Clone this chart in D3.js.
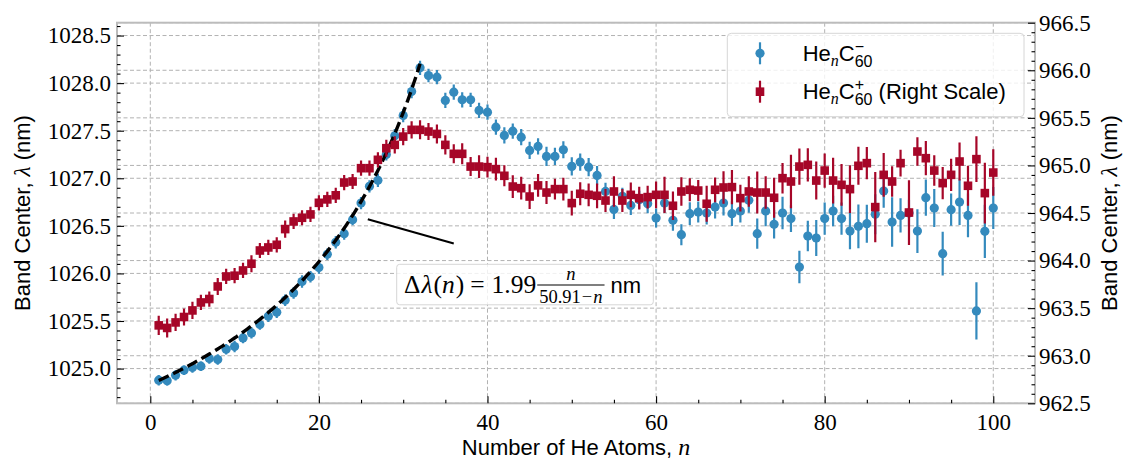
<!DOCTYPE html>
<html>
<head>
<meta charset="utf-8">
<script src="https://cdn.jsdelivr.net/npm/d3@7/dist/d3.min.js"></script>
<style>
  html, body { margin: 0; padding: 0; background: #fff; }
  svg { display: block; }
</style>
</head>
<body>
<svg id="chart" width="1129" height="462"></svg>
<script>
// Cluster size n
const nAtoms = d3.range(1, 101);

// He_n C60^- band centre (nm, left scale)
const anionCenter = [
  1024.878, 1024.871, 1024.930, 1024.983, 1025.011, 1025.025, 1025.106, 1025.095, 1025.203, 1025.232,
  1025.322, 1025.375, 1025.463, 1025.550, 1025.592, 1025.718, 1025.794, 1025.915, 1025.965, 1026.061,
  1026.201, 1026.327, 1026.418, 1026.565, 1026.739, 1026.915, 1026.978, 1027.251, 1027.447, 1027.660,
  1027.912, 1028.161, 1028.080, 1028.062, 1027.818, 1027.905, 1027.825, 1027.825, 1027.713, 1027.695,
  1027.537, 1027.450, 1027.495, 1027.432, 1027.293, 1027.335, 1027.230, 1027.230, 1027.300, 1027.125,
  1027.170, 1027.117, 1027.030, 1026.862, 1026.673, 1026.810, 1026.715, 1026.775, 1026.733, 1026.582,
  1026.739, 1026.558, 1026.407, 1026.628, 1026.645, 1026.635, 1026.698, 1026.739, 1026.628, 1026.656,
  1026.768, 1026.418, 1026.656, 1026.516, 1026.635, 1026.576, 1026.067, 1026.393, 1026.372, 1026.576,
  1026.656, 1026.576, 1026.445, 1026.495, 1026.523, 1026.621, 1026.865, 1026.540, 1026.610, 1026.635,
  1026.445, 1026.796, 1026.687, 1026.208, 1026.670, 1026.750, 1026.610, 1025.606, 1026.442, 1026.687
];
const anionErr = [
  0.055, 0.050, 0.055, 0.050, 0.055, 0.050, 0.055, 0.055, 0.055, 0.060,
  0.055, 0.060, 0.055, 0.060, 0.060, 0.060, 0.060, 0.065, 0.060, 0.065,
  0.060, 0.065, 0.065, 0.060, 0.065, 0.065, 0.070, 0.065, 0.070, 0.070,
  0.070, 0.075, 0.070, 0.075, 0.080, 0.080, 0.080, 0.075, 0.080, 0.080,
  0.080, 0.085, 0.080, 0.085, 0.090, 0.085, 0.100, 0.090, 0.090, 0.095,
  0.090, 0.095, 0.100, 0.090, 0.100, 0.090, 0.100, 0.095, 0.100, 0.100,
  0.100, 0.110, 0.110, 0.120, 0.110, 0.120, 0.120, 0.130, 0.130, 0.120,
  0.130, 0.160, 0.160, 0.150, 0.170, 0.140, 0.170, 0.160, 0.190, 0.170,
  0.160, 0.170, 0.190, 0.230, 0.200, 0.210, 0.175, 0.260, 0.180, 0.140,
  0.230, 0.190, 0.200, 0.230, 0.170, 0.240, 0.230, 0.300, 0.280, 0.220
];

// He_n C60^+ band centre (nm, right scale)
const cationCenter = [
  963.319, 963.292, 963.350, 963.407, 963.476, 963.560, 963.596, 963.728, 963.833, 963.841,
  963.896, 963.967, 964.106, 964.138, 964.166, 964.331, 964.411, 964.450, 964.485, 964.607,
  964.643, 964.686, 964.820, 964.831, 964.971, 964.971, 965.059, 965.181, 965.216, 965.303,
  965.374, 965.374, 965.356, 965.331, 965.216, 965.122, 965.122, 964.988, 964.988, 964.982,
  964.961, 964.891, 964.778, 964.761, 964.673, 964.790, 964.715, 964.751, 964.751, 964.604,
  964.702, 964.691, 964.681, 964.631, 964.726, 964.631, 964.691, 964.656, 964.667, 964.691,
  964.691, 964.576, 964.726, 964.744, 964.736, 964.597, 964.744, 964.768, 964.772, 964.656,
  964.726, 964.715, 964.715, 964.660, 964.866, 964.831, 964.988, 965.006, 964.841, 964.946,
  964.841, 964.796, 964.751, 964.996, 965.024, 964.562, 964.901, 964.831, 965.024, 964.505,
  965.146, 965.076, 964.946, 964.814, 964.901, 965.041, 964.786, 965.066, 964.709, 964.925
];
const cationErr = [
  0.100, 0.100, 0.090, 0.090, 0.090, 0.080, 0.080, 0.090, 0.080, 0.080,
  0.080, 0.090, 0.080, 0.080, 0.080, 0.090, 0.080, 0.080, 0.080, 0.080,
  0.080, 0.080, 0.080, 0.080, 0.080, 0.080, 0.080, 0.090, 0.090, 0.090,
  0.090, 0.100, 0.090, 0.100, 0.100, 0.100, 0.110, 0.100, 0.120, 0.110,
  0.120, 0.110, 0.120, 0.120, 0.130, 0.120, 0.120, 0.110, 0.120, 0.130,
  0.120, 0.120, 0.130, 0.120, 0.160, 0.120, 0.130, 0.120, 0.120, 0.140,
  0.190, 0.150, 0.150, 0.120, 0.110, 0.190, 0.130, 0.170, 0.180, 0.140,
  0.160, 0.220, 0.170, 0.210, 0.160, 0.280, 0.190, 0.175, 0.200, 0.180,
  0.240, 0.220, 0.250, 0.200, 0.170, 0.370, 0.230, 0.160, 0.140, 0.340,
  0.150, 0.180, 0.160, 0.170, 0.170, 0.200, 0.210, 0.240, 0.320, 0.245
];

// Fit to the anion shift: Δλ(n) = 1.99 n / (50.91 − n)
const fitAmp = 1.99;
const fitN0 = 50.91;
const fitBase = 1024.835;
const fitRange = [1, 32];

// Axis ticks
const xTicks = [0, 20, 40, 60, 80, 100];
const leftTicks = [1025.0, 1025.5, 1026.0, 1026.5, 1027.0, 1027.5, 1028.0, 1028.5];
const rightTicks = [962.5, 963.0, 963.5, 964.0, 964.5, 965.0, 965.5, 966.0, 966.5];

const blue = "#348ABD";
const red = "#A60628";
const serif = "'Liberation Serif', 'DejaVu Serif', serif";
const sans = "'Liberation Sans', 'DejaVu Sans', sans-serif";

const plot = { left: 117, right: 1035, top: 22.7, bottom: 403.3 };

const x = d3.scaleLinear().domain([-3.95, 104.95]).range([plot.left, plot.right]);
const yL = d3.scaleLinear().domain([1024.635, 1028.635]).range([plot.bottom, plot.top]);
const yR = d3.scaleLinear().domain([962.5, 966.5]).range([plot.bottom, plot.top]);

const svg = d3.select("#chart");

svg.append("defs").append("clipPath").attr("id", "plotClip")
  .append("rect")
  .attr("x", plot.left).attr("y", plot.top)
  .attr("width", plot.right - plot.left).attr("height", plot.bottom - plot.top);

// Grid
const grid = svg.append("g").attr("stroke", "#b2b2b2").attr("stroke-width", 1)
  .attr("stroke-dasharray", "4,2.5").attr("fill", "none");
xTicks.forEach(t => grid.append("line")
  .attr("x1", x(t)).attr("x2", x(t)).attr("y1", plot.top).attr("y2", plot.bottom));
leftTicks.forEach(t => grid.append("line")
  .attr("x1", plot.left).attr("x2", plot.right).attr("y1", yL(t)).attr("y2", yL(t)));
rightTicks.forEach(t => grid.append("line")
  .attr("x1", plot.left).attr("x2", plot.right).attr("y1", yR(t)).attr("y2", yR(t)));

const dataLayer = svg.append("g").attr("clip-path", "url(#plotClip)");

// Anion series
const anion = nAtoms.map((n, i) => ({ n, v: anionCenter[i], e: anionErr[i] }));
const gA = dataLayer.append("g");
gA.selectAll("line").data(anion).join("line")
  .attr("x1", d => x(d.n)).attr("x2", d => x(d.n))
  .attr("y1", d => yL(d.v - d.e)).attr("y2", d => yL(d.v + d.e))
  .attr("stroke", blue).attr("stroke-width", 2.2);
gA.selectAll("circle").data(anion).join("circle")
  .attr("cx", d => x(d.n)).attr("cy", d => yL(d.v)).attr("r", 4.6)
  .attr("fill", blue);

// Fit curve
const fitPts = d3.range(fitRange[0], fitRange[1] + 0.001, 0.25)
  .map(n => [n, fitBase + fitAmp * n / (fitN0 - n)]);
dataLayer.append("path")
  .datum(fitPts)
  .attr("d", d3.line().x(d => x(d[0])).y(d => yL(d[1])))
  .attr("fill", "none").attr("stroke", "#000").attr("stroke-width", 3.4)
  .attr("stroke-dasharray", "11,5");

// Cation series (right scale)
const cation = nAtoms.map((n, i) => ({ n, v: cationCenter[i], e: cationErr[i] }));
const gC = dataLayer.append("g");
gC.selectAll("line").data(cation).join("line")
  .attr("x1", d => x(d.n)).attr("x2", d => x(d.n))
  .attr("y1", d => yR(d.v - d.e)).attr("y2", d => yR(d.v + d.e))
  .attr("stroke", red).attr("stroke-width", 2.2);
const sq = 8.6;
gC.selectAll("rect").data(cation).join("rect")
  .attr("x", d => x(d.n) - sq / 2).attr("y", d => yR(d.v) - sq / 2)
  .attr("width", sq).attr("height", sq)
  .attr("fill", red);

// Frame
svg.append("rect")
  .attr("x", plot.left).attr("y", plot.top)
  .attr("width", plot.right - plot.left).attr("height", plot.bottom - plot.top)
  .attr("fill", "none").attr("stroke", "#bcbcbc").attr("stroke-width", 2);

// Axes with inward ticks
function styleAxis(g, size) {
  g.select(".domain").remove();
  g.selectAll(".tick line").attr("stroke", "#000").attr("stroke-width", 1.1);
  g.selectAll(".tick text").attr("font-family", serif).attr("font-size", size).attr("fill", "#000");
}
const fmt1 = d3.format(".1f");

const xMinor = d3.range(0, 101, 5).filter(v => !xTicks.includes(v));
const gxMinor = svg.append("g").attr("transform", `translate(0,${plot.bottom})`)
  .call(d3.axisBottom(x).tickValues(xMinor).tickSize(-3.5).tickFormat(""));
styleAxis(gxMinor, 23);
const gx = svg.append("g").attr("transform", `translate(0,${plot.bottom})`)
  .call(d3.axisBottom(x).tickValues(xTicks).tickSize(-7).tickPadding(10).tickFormat(d3.format("d")));
styleAxis(gx, 23);

const leftMinor = d3.range(10247, 10287).map(v => v / 10).filter(v => Math.abs(v * 2 - Math.round(v * 2)) > 1e-6);
const gyLm = svg.append("g").attr("transform", `translate(${plot.left},0)`)
  .call(d3.axisLeft(yL).tickValues(leftMinor).tickSize(-3.5).tickFormat(""));
styleAxis(gyLm, 23);
const gyL = svg.append("g").attr("transform", `translate(${plot.left},0)`)
  .call(d3.axisLeft(yL).tickValues(leftTicks).tickSize(-7).tickPadding(6).tickFormat(fmt1));
styleAxis(gyL, 23);

const rightMinor = d3.range(9626, 9665).map(v => v / 10).filter(v => Math.abs(v * 2 - Math.round(v * 2)) > 1e-6);
const gyRm = svg.append("g").attr("transform", `translate(${plot.right},0)`)
  .call(d3.axisRight(yR).tickValues(rightMinor).tickSize(-3.5).tickFormat(""));
styleAxis(gyRm, 23);
const gyR = svg.append("g").attr("transform", `translate(${plot.right},0)`)
  .call(d3.axisRight(yR).tickValues(rightTicks).tickSize(-7).tickPadding(4).tickFormat(fmt1));
styleAxis(gyR, 23);

// Axis titles
function axisTitle(tx, ty, rot) {
  const t = svg.append("text")
    .attr("transform", `translate(${tx},${ty}) rotate(${rot})`)
    .attr("text-anchor", "middle").attr("font-family", sans).attr("font-size", 22).attr("fill", "#000");
  return t;
}
const ylab = axisTitle(30, (plot.top + plot.bottom) / 2, -90);
ylab.append("tspan").text("Band Center, ");
ylab.append("tspan").attr("font-family", serif).attr("font-style", "italic").attr("font-size", 23).text("λ");
ylab.append("tspan").text(" (nm)");

const ylab2 = axisTitle(1117, (plot.top + plot.bottom) / 2, -90);
ylab2.append("tspan").text("Band Center, ");
ylab2.append("tspan").attr("font-family", serif).attr("font-style", "italic").attr("font-size", 23).text("λ");
ylab2.append("tspan").text(" (nm)");

const xlab = axisTitle((plot.left + plot.right) / 2, 455, 0);
xlab.append("tspan").text("Number of He Atoms, ");
xlab.append("tspan").attr("font-family", serif).attr("font-style", "italic").attr("font-size", 24).text("n");

// Rich text helper: pieces laid left to right, "stack" pieces share one slot
function richText(g, x0, y0, pieces) {
  let cx = x0;
  pieces.forEach(p => {
    const items = p.stack || [p];
    let w = 0;
    items.forEach(it => {
      const t = g.append("text")
        .attr("x", cx).attr("y", y0 + (it.dy || 0))
        .attr("font-family", it.family || sans)
        .attr("font-size", it.size)
        .attr("font-style", it.italic ? "italic" : "normal")
        .attr("fill", "#000")
        .attr("xml:space", "preserve")
        .text(it.t);
      w = Math.max(w, t.node().getComputedTextLength());
    });
    cx += w + (p.gap || 0);
  });
  return cx - x0;
}

// Annotation: pointer line and formula box
svg.append("line")
  .attr("x1", x(25.8)).attr("y1", yL(1026.57))
  .attr("x2", x(36.0)).attr("y2", yL(1026.315))
  .attr("stroke", "#000").attr("stroke-width", 2);

const ann = svg.append("g");
ann.append("rect")
  .attr("x", 396.7).attr("y", 264.3).attr("width", 256.6).attr("height", 40.5)
  .attr("rx", 3).attr("fill", "#fff").attr("fill-opacity", 0.8)
  .attr("stroke", "#d6d6d6").attr("stroke-width", 1);
const annG = ann.append("g");
const base = 293;
const mf = 25.5;
let w1 = richText(annG, 404, base, [
  { t: "Δ", size: mf, family: serif, gap: 1 },
  { t: "λ", size: mf, family: serif, italic: true, gap: 1 },
  { t: "(", size: mf, family: serif },
  { t: "n", size: mf, family: serif, italic: true, gap: 1 },
  { t: ")", size: mf, family: serif, gap: 6 },
  { t: "=", size: mf, family: serif, gap: 7 },
  { t: "1.99", size: mf, family: serif }
]);
const fracX = 404 + w1 + 1;
const den = annG.append("text").attr("x", 0).attr("y", base + 10)
  .attr("font-family", serif).attr("font-size", 18.5).attr("fill", "#000");
den.append("tspan").text("50.91");
den.append("tspan").attr("dx", 1).text("−");
den.append("tspan").attr("dx", 1).attr("font-style", "italic").text("n");
const denW = den.node().getBBox().width;
den.attr("x", fracX + 2);
annG.append("line")
  .attr("x1", fracX).attr("x2", fracX + denW + 4)
  .attr("y1", base - 8).attr("y2", base - 8)
  .attr("stroke", "#000").attr("stroke-width", 1.1);
annG.append("text").attr("x", fracX + (denW + 4) / 2).attr("y", base - 13)
  .attr("text-anchor", "middle").attr("font-family", serif).attr("font-style", "italic")
  .attr("font-size", 18.5).attr("fill", "#000").text("n");
annG.append("text").attr("x", fracX + denW + 4 + 6).attr("y", base)
  .attr("font-family", sans).attr("font-size", 22).attr("fill", "#000").text("nm");

// Legend
const leg = svg.append("g");
leg.append("rect")
  .attr("x", 727.3).attr("y", 33.3).attr("width", 296.7).attr("height", 83.4)
  .attr("rx", 4).attr("fill", "#fff").attr("fill-opacity", 0.8)
  .attr("stroke", "#d6d6d6").attr("stroke-width", 1);
const legItems = [
  { color: blue, shape: "circle", cy: 53.3, charge: "−", extra: "" },
  { color: red, shape: "square", cy: 91.7, charge: "+", extra: " (Right Scale)" }
];
legItems.forEach(it => {
  leg.append("line").attr("x1", 760).attr("x2", 760)
    .attr("y1", it.cy - 11).attr("y2", it.cy + 11)
    .attr("stroke", it.color).attr("stroke-width", 2.2);
  if (it.shape === "circle") {
    leg.append("circle").attr("cx", 760).attr("cy", it.cy).attr("r", 4.6).attr("fill", it.color);
  } else {
    leg.append("rect").attr("x", 760 - sq / 2).attr("y", it.cy - sq / 2)
      .attr("width", sq).attr("height", sq).attr("fill", it.color);
  }
  const pieces = [
    { t: "He", size: 22 },
    { t: "n", size: 16, family: serif, italic: true, dy: 5 },
    { t: "C", size: 22 },
    { stack: [
      { t: it.charge, size: 16, dy: -9 },
      { t: "60", size: 16, dy: 6 }
    ] }
  ];
  if (it.extra) pieces.push({ t: it.extra, size: 22 });
  richText(leg, 802.7, it.cy + 7.5, pieces);
});
</script>
</body>
</html>
